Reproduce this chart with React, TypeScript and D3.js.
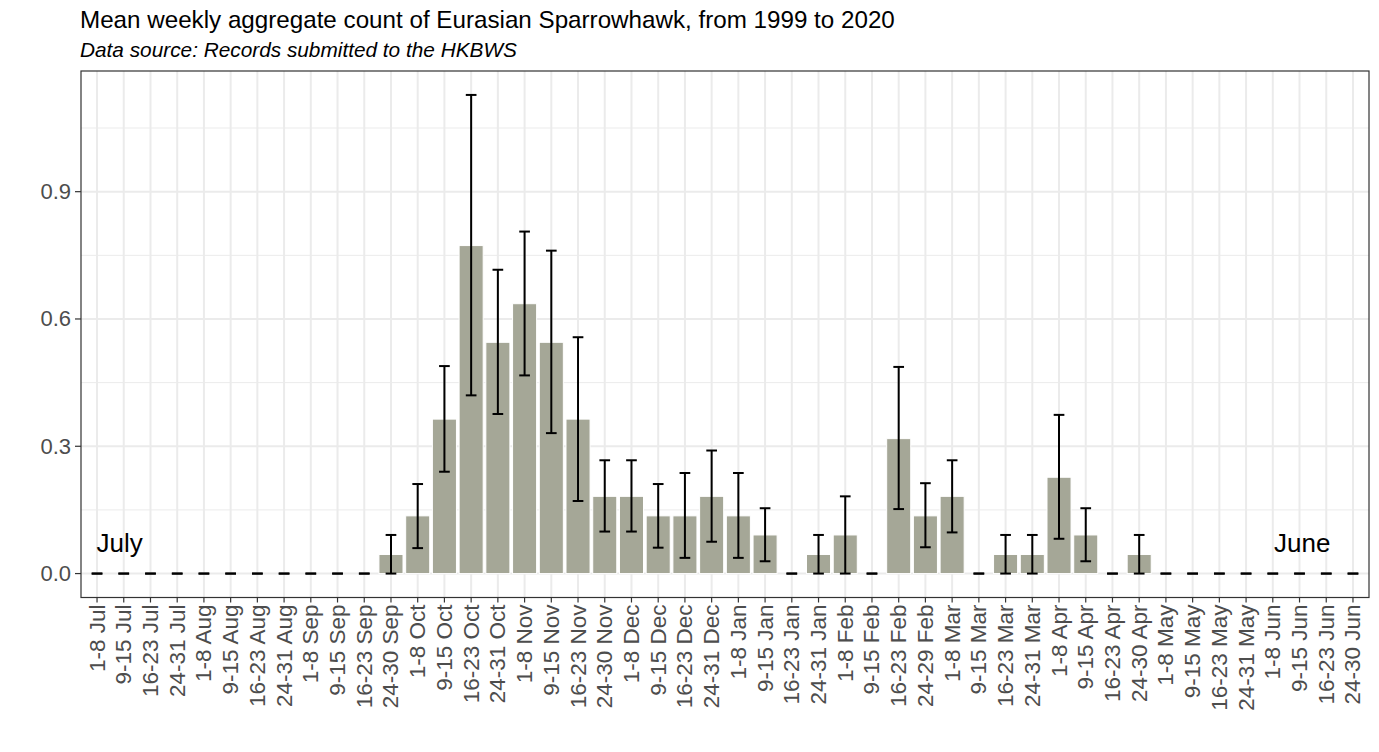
import * as d3 from "d3"

const weeks = [
  "1-8 Jul", "9-15 Jul", "16-23 Jul", "24-31 Jul",
  "1-8 Aug", "9-15 Aug", "16-23 Aug", "24-31 Aug",
  "1-8 Sep", "9-15 Sep", "16-23 Sep", "24-30 Sep",
  "1-8 Oct", "9-15 Oct", "16-23 Oct", "24-31 Oct",
  "1-8 Nov", "9-15 Nov", "16-23 Nov", "24-30 Nov",
  "1-8 Dec", "9-15 Dec", "16-23 Dec", "24-31 Dec",
  "1-8 Jan", "9-15 Jan", "16-23 Jan", "24-31 Jan",
  "1-8 Feb", "9-15 Feb", "16-23 Feb", "24-29 Feb",
  "1-8 Mar", "9-15 Mar", "16-23 Mar", "24-31 Mar",
  "1-8 Apr", "9-15 Apr", "16-23 Apr", "24-30 Apr",
  "1-8 May", "9-15 May", "16-23 May", "24-31 May",
  "1-8 Jun", "9-15 Jun", "16-23 Jun", "24-30 Jun",
]

const meanCount = [
  0, 0, 0, 0, 0, 0, 0, 0, 0, 0, 0, 0.045,
  0.136, 0.364, 0.773, 0.545, 0.636, 0.545, 0.364, 0.182,
  0.182, 0.136, 0.136, 0.182, 0.136, 0.091, 0, 0.045,
  0.091, 0, 0.318, 0.136, 0.182, 0, 0.045, 0.045,
  0.227, 0.091, 0, 0.045, 0, 0, 0, 0, 0, 0, 0, 0,
]

const lowerErr = [
  0, 0, 0, 0, 0, 0, 0, 0, 0, 0, 0, 0,
  0.06, 0.24, 0.42, 0.376, 0.467, 0.331, 0.171, 0.099,
  0.099, 0.061, 0.037, 0.075, 0.037, 0.029, 0, 0,
  0, 0, 0.152, 0.062, 0.097, 0, 0, 0,
  0.082, 0.029, 0, 0, 0, 0, 0, 0, 0, 0, 0, 0,
]

const upperErr = [
  0, 0, 0, 0, 0, 0, 0, 0, 0, 0, 0, 0.091,
  0.211, 0.489, 1.128, 0.716, 0.806, 0.761, 0.557, 0.267,
  0.267, 0.211, 0.237, 0.29, 0.237, 0.154, 0, 0.091,
  0.182, 0, 0.487, 0.213, 0.267, 0, 0.091, 0.091,
  0.374, 0.154, 0, 0.091, 0, 0, 0, 0, 0, 0, 0, 0,
]

const yTicks = [0, 0.3, 0.6, 0.9]
const yMinor = [0.15, 0.45, 0.75, 1.05]

const width = 1379
const height = 752
const panel = { left: 81, right: 1369, top: 71, bottom: 597.5 }
const font = "'Liberation Sans', Arial, sans-serif"

export default function App() {
  const x = d3
    .scalePoint<string>()
    .domain(weeks)
    .range([panel.left, panel.right])
    .padding(0.6)
  const step = x.step()

  const yMax = d3.max(upperErr) as number
  const y = d3
    .scaleLinear()
    .domain([-yMax * 0.05, yMax * 1.05])
    .range([panel.bottom, panel.top])

  const barW = step * 0.9
  const capW = step * 0.4

  return (
    <svg
      width={width}
      height={height}
      style={{ position: "absolute", left: 0, top: 0, background: "white" }}
      fontFamily={font}
    >
      <text x={80} y={28} fontSize={24.2} fill="black">
        Mean weekly aggregate count of Eurasian Sparrowhawk, from 1999 to 2020
      </text>
      <text x={80} y={57} fontSize={20.8} fontStyle="italic" fill="black">
        Data source: Records submitted to the HKBWS
      </text>

      {/* grid */}
      <g>
        {yMinor.map((t) => (
          <line key={"mi" + t} x1={panel.left} x2={panel.right} y1={y(t)} y2={y(t)} stroke="#ebebeb" strokeWidth={1} />
        ))}
        {yTicks.map((t) => (
          <line key={"ma" + t} x1={panel.left} x2={panel.right} y1={y(t)} y2={y(t)} stroke="#ebebeb" strokeWidth={2} />
        ))}
        {weeks.map((w) => (
          <line key={"v" + w} x1={x(w)} x2={x(w)} y1={panel.top} y2={panel.bottom} stroke="#ebebeb" strokeWidth={2} />
        ))}
      </g>

      {/* bars */}
      <g fill="#a5a797" stroke="white" strokeWidth={1}>
        {weeks.map((w, i) =>
          meanCount[i] > 0 ? (
            <rect
              key={w}
              x={(x(w) as number) - barW / 2}
              y={y(meanCount[i])}
              width={barW}
              height={y(0) - y(meanCount[i])}
            />
          ) : null
        )}
      </g>

      {/* error bars */}
      <g stroke="black" strokeWidth={2} fill="none">
        {weeks.map((w, i) => {
          const cx = x(w) as number
          return (
            <g key={w}>
              <line x1={cx} x2={cx} y1={y(lowerErr[i])} y2={y(upperErr[i])} />
              <line x1={cx - capW / 2} x2={cx + capW / 2} y1={y(lowerErr[i])} y2={y(lowerErr[i])} />
              <line x1={cx - capW / 2} x2={cx + capW / 2} y1={y(upperErr[i])} y2={y(upperErr[i])} />
            </g>
          )
        })}
      </g>

      <text x={(x(weeks[0]) as number) + step * 0.85} y={y(0.072)} fontSize={26} textAnchor="middle" dominantBaseline="central" fill="black">
        July
      </text>
      <text x={(x(weeks[45]) as number) + step * 0.1} y={y(0.072)} fontSize={26} textAnchor="middle" dominantBaseline="central" fill="black">
        June
      </text>

      <rect
        x={panel.left}
        y={panel.top}
        width={panel.right - panel.left}
        height={panel.bottom - panel.top}
        fill="none"
        stroke="#333333"
        strokeWidth={1.2}
      />

      {/* y axis */}
      <g>
        {yTicks.map((t) => (
          <g key={t}>
            <line x1={panel.left - 6} x2={panel.left} y1={y(t)} y2={y(t)} stroke="#333333" strokeWidth={1.2} />
            <text x={panel.left - 10} y={y(t)} fontSize={22} fill="#4d4d4d" textAnchor="end" dominantBaseline="central">
              {d3.format(".1f")(t)}
            </text>
          </g>
        ))}
      </g>

      {/* x axis */}
      <g>
        {weeks.map((w) => {
          const cx = x(w) as number
          return (
            <g key={w}>
              <line x1={cx} x2={cx} y1={panel.bottom} y2={panel.bottom + 5} stroke="#333333" strokeWidth={1.2} />
              <text
                transform={`translate(${cx},${panel.bottom + 7}) rotate(-90)`}
                fontSize={22.5}
                fill="#4d4d4d"
                textAnchor="end"
                dominantBaseline="central"
              >
                {w}
              </text>
            </g>
          )
        })}
      </g>
    </svg>
  )
}
